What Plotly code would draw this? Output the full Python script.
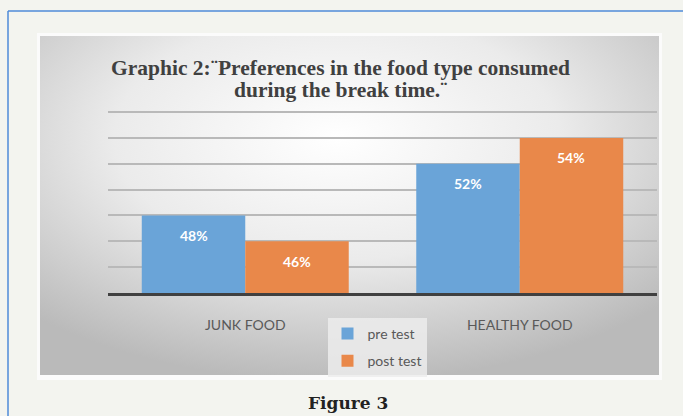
import base64
import plotly.graph_objects as go

categories = ["JUNK FOOD", "HEALTHY FOOD"]
pre_test = [48, 52]
post_test = [46, 54]
series_names = ["pre test", "post test"]
title_lines = ["Graphic 2:\u00a8Preferences in the food type consumed",
               "during the break time.\u00a8"]
caption = "Figure 3"

W, H = 683, 416
L, R, T, B = 108, 26, 111, 123
PW, PH = W - L - R, H - T - B


def px(x):
    return (x - L) / PW


def py(y):
    return (H - B - y) / PH


svg = ("<svg xmlns='http://www.w3.org/2000/svg' width='625' height='347' viewBox='0 0 625 347' "
       "preserveAspectRatio='none'>"
       "<defs><radialGradient id='g' cx='0.48' cy='0.3' r='0.72'>"
       "<stop offset='0' stop-color='#ffffff'/>"
       "<stop offset='0.5' stop-color='#ebebeb'/>"
       "<stop offset='1' stop-color='#bababa'/>"
       "</radialGradient></defs>"
       "<rect x='0' y='0' width='625' height='347' fill='#fbfbfb'/>"
       "<rect x='3' y='3' width='619' height='339' fill='url(#g)'/></svg>")
svg_uri = "data:image/svg+xml;base64," + base64.b64encode(svg.encode()).decode()

BAR_COLORS = ["#6AA4D8", "#E9884A"]

fig = go.Figure()
for name, vals, col, grp in [(series_names[0], pre_test, BAR_COLORS[0], "a"),
                             (series_names[1], post_test, BAR_COLORS[1], "b")]:
    fig.add_trace(go.Bar(
        x=categories, y=vals, name=name, legendgroup=grp,
        marker=dict(color=col, line=dict(width=0)),
        hoverinfo="skip",
    ))

# value labels, positioned from the data (inside end of each bar)
label_anns = []
bar_half_offset = 51.5
for vals, sign in [(pre_test, -1), (post_test, 1)]:
    for cat, v in zip(categories, vals):
        label_anns.append(dict(
            text="<b>%d%%</b>" % v, x=cat, y=v, xref="x", yref="y",
            xshift=sign * bar_half_offset, yshift=-20, showarrow=False,
            xanchor="center", yanchor="middle",
            font=dict(family="Lato", size=14, color="white"),
        ))

fig.update_layout(
    width=W, height=H,
    margin=dict(l=L, r=R, t=T, b=B),
    paper_bgcolor="#F3F4EF",
    plot_bgcolor="rgba(0,0,0,0)",
    barmode="group", bargap=0.246, bargroupgap=0,
    font=dict(family="Lato", color="#595959"),
    showlegend=True,
    legend=dict(
        x=px(377), y=py(318), xanchor="center", yanchor="top",
        orientation="v", bgcolor="rgba(236,236,236,0.85)",
        font=dict(family="Lato", size=14, color="#595959"),
        tracegroupgap=6, itemwidth=30,
    ),
    xaxis=dict(
        showgrid=False, showline=True, linecolor="#404040", linewidth=2.5,
        ticks="", ticklabelstandoff=17,
        tickfont=dict(family="Lato", size=14, color="#595959"),
    ),
    yaxis=dict(
        range=[42, 56.08], tick0=42, dtick=2, showticklabels=False, ticks="",
        showgrid=True, gridcolor="#b9b9b9", gridwidth=1.6,
        zeroline=False, showline=False,
    ),
    images=[dict(
        source=svg_uri, xref="paper", yref="paper",
        x=px(37), y=py(33), sizex=px(662) - px(37), sizey=py(33) - py(380),
        xanchor="left", yanchor="top", sizing="stretch", layer="below",
    )],
    shapes=[
        dict(type="line", xref="paper", yref="paper",
             x0=px(8), x1=px(8), y0=py(11), y1=py(416),
             line=dict(color="#4F8BD9", width=1.5)),
        dict(type="line", xref="paper", yref="paper",
             x0=px(8), x1=px(683), y0=py(11), y1=py(11),
             line=dict(color="#4F8BD9", width=1.5)),
    ],
    annotations=label_anns + [
        dict(text="<b>" + title_lines[0] + "</b>", xref="paper", yref="paper",
             x=px(340), y=py(68), xanchor="center", yanchor="middle", showarrow=False,
             font=dict(family="Liberation Serif", size=21.5, color="#404040")),
        dict(text="<b>" + title_lines[1] + "</b>", xref="paper", yref="paper",
             x=px(340), y=py(90), xanchor="center", yanchor="middle", showarrow=False,
             font=dict(family="Liberation Serif", size=21.5, color="#404040")),
        dict(text="<b>" + caption + "</b>", xref="paper", yref="paper",
             x=px(348), y=py(403), xanchor="center", yanchor="middle", showarrow=False,
             font=dict(family="DejaVu Serif", size=17, color="#222222")),
    ],
)

fig.write_html("out.html")
